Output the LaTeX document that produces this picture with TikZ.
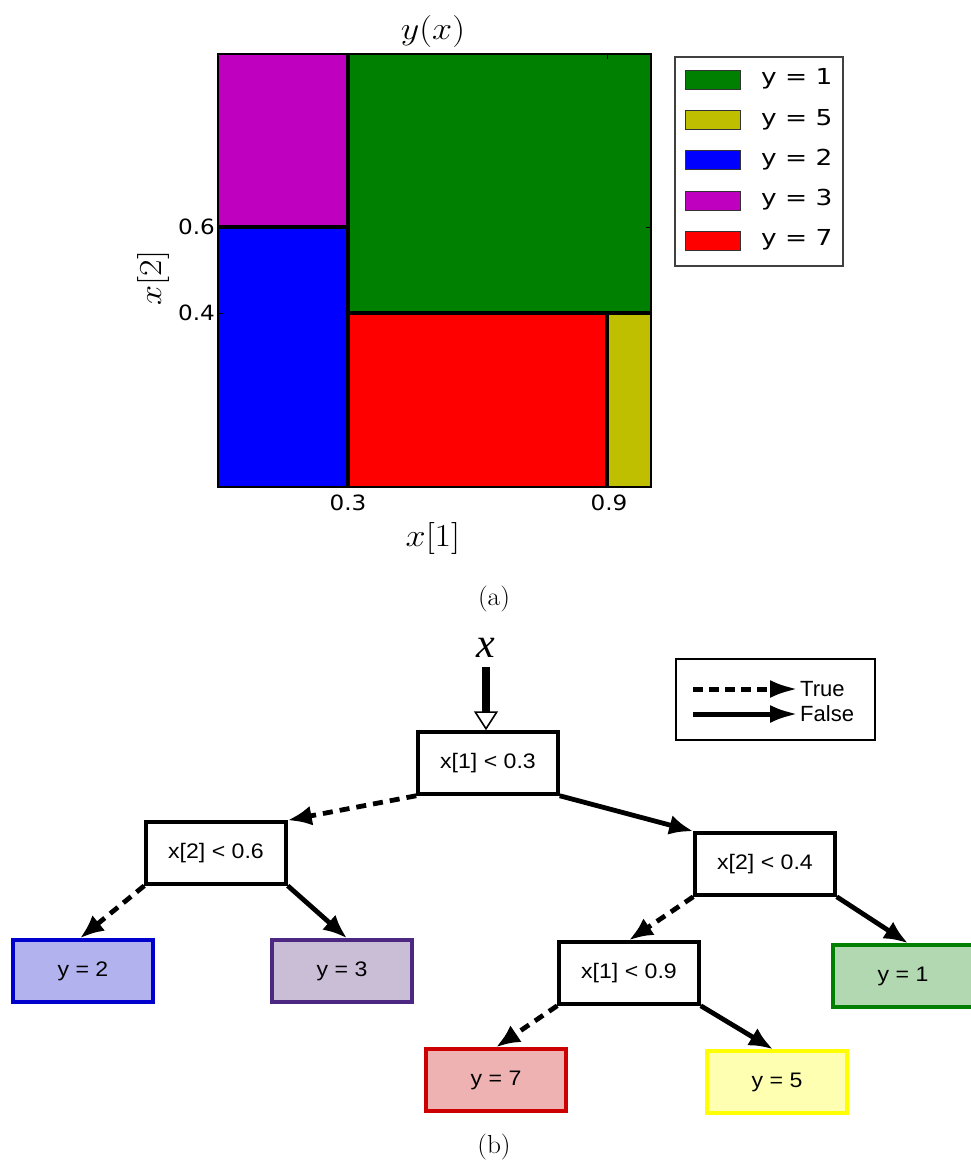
\RequirePackage{fix-cm}
\documentclass[tikz,border=0pt]{standalone}
\usepackage{fontspec}
\usepackage{graphicx}
\usetikzlibrary{arrows.meta}
\newfontfamily\vera{DejaVu Sans}
\newfontfamily\arial{Liberation Sans}
\newfontfamily\tnr{Liberation Serif}
\newcommand{\sx}[2][1.1]{\scalebox{#1}[1]{#2}}
\newcommand{\mbig}[1]{\scalebox{1.8}[1.6]{#1}}
\definecolor{mgreen}{RGB}{0,128,0}
\definecolor{molive}{RGB}{191,191,0}
\definecolor{mblue}{RGB}{0,0,255}
\definecolor{mmag}{RGB}{191,0,191}
\definecolor{mred}{RGB}{255,0,0}
\definecolor{bdraw}{RGB}{0,0,204}\definecolor{bfill}{RGB}{178,178,238}
\definecolor{pdraw}{RGB}{76,40,130}\definecolor{pfill}{RGB}{202,190,215}
\definecolor{gdraw}{RGB}{0,128,0}\definecolor{gfill}{RGB}{178,216,178}
\definecolor{rdraw}{RGB}{204,0,0}\definecolor{rfill}{RGB}{238,178,178}
\definecolor{ydraw}{RGB}{255,255,0}\definecolor{yfill}{RGB}{255,255,178}
\tikzset{
  divider/.style={line width=3.5pt, black},
  ticklab/.style={font=\vera\fontsize{21}{24}\selectfont, inner sep=0pt},
  leglab/.style={font=\vera\fontsize{22}{26}\selectfont, inner sep=0pt, anchor=west},
  swatch/.style={draw=black!80, line width=1pt},
  mathlab/.style={font=\fontsize{20}{24}\selectfont, inner sep=0pt},
  caplab/.style={font=\fontsize{26}{30}\selectfont, inner sep=0pt},
  tbox/.style={draw=black, line width=3.5pt, fill=white, minimum width=140pt,
    minimum height=62pt, inner sep=0pt, font=\arial\fontsize{21}{24}\selectfont},
  tedge/.style={line width=4.8pt, -{Latex[length=24pt,width=20pt]}},
  tdash/.style={tedge, dash pattern=on 10pt off 7pt},
  lgedge/.style={line width=5pt, -{Latex[length=28pt,width=18pt]}},
}
\begin{document}
\begin{tikzpicture}[x=1pt,y=-1pt]
\useasboundingbox (0,0) rectangle (971,1163);
% ---------- (a) plot ----------
\fill[mmag] (218,54) rectangle (348,227);
\fill[mblue] (218,227) rectangle (348,487);
\fill[mgreen] (348,54) rectangle (651,313);
\fill[mred] (348,313) rectangle (607,487);
\fill[molive] (607,313) rectangle (651,487);
\draw[divider] (348,54) -- (348,487);
\draw[divider] (218,227) -- (348,227);
\draw[divider] (348,313) -- (651,313);
\draw[divider] (607,313) -- (607,487);
\draw[line width=1.2pt] (218,54) rectangle (651,487);
\foreach \yy in {227,313} {\draw[line width=1pt] (218,\yy) -- (223,\yy); \draw[line width=1pt] (651,\yy) -- (646,\yy);}
\foreach \xx in {348,607} {\draw[line width=1pt] (\xx,487) -- (\xx,482); \draw[line width=1pt] (\xx,54) -- (\xx,59);}
\node[ticklab, anchor=east] (t06) at (215,227) {\sx{0.6}};
\node[ticklab, anchor=east] (t04) at (215,313) {\sx{0.4}};
\node[ticklab] (t03) at (348,503) {\sx{0.3}};
\node[ticklab] (t09) at (609,503) {\sx{0.9}};
\node[mathlab] (title) at (433,31) {\mbig{$y(x)$}};
\node[mathlab] (xl1) at (433,538) {\mbig{$x[1]$}};
\node[mathlab, rotate=90] (xl2) at (153,278) {\mbig{$x[2]$}};
\node[caplab] (capa) at (494,599) {\sx[1.05]{(a)}};
% legend
\draw[line width=1.3pt, black!75] (675,57) rectangle (843,266);
\fill[mgreen] (685,70) rectangle (740,89); \draw[swatch] (685,70) rectangle (740,89);
\fill[molive] (685,110) rectangle (740,129); \draw[swatch] (685,110) rectangle (740,129);
\fill[mblue] (685,150) rectangle (740,169); \draw[swatch] (685,150) rectangle (740,169);
\fill[mmag] (685,191) rectangle (740,210); \draw[swatch] (685,191) rectangle (740,210);
\fill[mred] (685,231) rectangle (740,250); \draw[swatch] (685,231) rectangle (740,250);
\node[leglab] (l1) at (761,79) {\sx[1.2]{y = 1}};
\node[leglab] (l5) at (761,120) {\sx[1.2]{y = 5}};
\node[leglab] (l2) at (761,160) {\sx[1.2]{y = 2}};
\node[leglab] (l3) at (761,200) {\sx[1.2]{y = 3}};
\node[leglab] (l7) at (761,240) {\sx[1.2]{y = 7}};
% ---------- (b) tree ----------
\node[inner sep=0pt, font=\tnr\itshape\fontsize{42}{46}\selectfont] (xin) at (486,648) {x};
\node[tbox] (root) at (488,763) {\sx{x[1] < 0.3}};
\node[tbox] (a) at (216,853) {\sx{x[2] < 0.6}};
\node[tbox] (b) at (765,864) {\sx{x[2] < 0.4}};
\node[tbox, draw=bdraw, fill=bfill] (y2) at (83,971) {\sx{y = 2}};
\node[tbox, draw=pdraw, fill=pfill] (y3) at (342,971) {\sx{y = 3}};
\node[tbox] (c) at (629,973) {\sx{x[1] < 0.9}};
\node[tbox, draw=gdraw, fill=gfill] (y1) at (903,976) {\sx{y = 1}};
\node[tbox, draw=rdraw, fill=rfill] (y7) at (496,1080) {\sx{y = 7}};
\node[tbox, draw=ydraw, fill=yfill] (y5) at (777,1082) {\sx{y = 5}};
\coordinate (xs) at (486,667);
\draw[line width=8pt, -{Triangle[open, length=19pt, width=24pt, line width=1.6pt]}] (xs) -- (xs |- root.north);
\draw[tdash] (root.south west) -- (a.north east);
\draw[tedge] (root.south east) -- (b.north west);
\draw[tdash] (a.south west) -- ([xshift=-3pt]y2.north);
\draw[tedge] (a.south east) -- ([xshift=5pt]y3.north);
\draw[tdash] (b.south west) -- (c.north);
\draw[tedge] (b.south east) -- ([xshift=5pt]y1.north);
\draw[tdash] (c.south west) -- (y7.north);
\draw[tedge] (c.south east) -- ([xshift=-4pt]y5.north);
% tree legend
\draw[line width=1.5pt] (676,659) rectangle (875,740);
\coordinate (ta) at (693,689); \coordinate (tb) at (798,689);
\coordinate (fa) at (693,714); \coordinate (fb) at (798,714);
\draw[lgedge, dash pattern=on 10pt off 6pt] (ta) -- (tb);
\draw[lgedge] (fa) -- (fb);
\node[inner sep=0pt, anchor=west, font=\arial\fontsize{22}{24}\selectfont] (ltrue) at (800,689) {True};
\node[inner sep=0pt, anchor=west, font=\arial\fontsize{22}{24}\selectfont] (lfalse) at (800,714) {False};
\node[caplab] (capb) at (494,1147) {\sx[1.05]{(b)}};
\end{tikzpicture}
\end{document}
